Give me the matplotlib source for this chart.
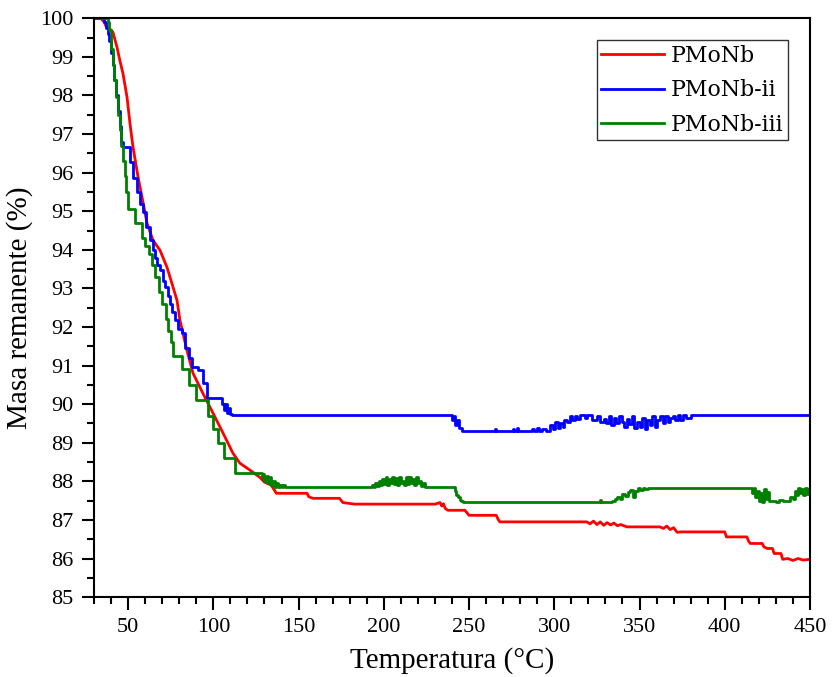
import numpy as np
import matplotlib
matplotlib.use("Agg")
import matplotlib.pyplot as plt
from matplotlib.ticker import MultipleLocator

# ---- Data ----
# each entry: (temperature in C, remaining mass in %)
red_pts = [(30, 100), (34, 100), (35, 99.95), (36, 99.9), (37, 99.8), (38, 99.75),
           (39, 99.7), (40, 99.7), (41.1, 99.64), (43.5, 99.25), (45.2, 98.9),
           (47, 98.57), (49.4, 97.95), (51.1, 97.28), (52.9, 96.66), (55.8, 95.9),
           (58.2, 95.36), (61.1, 94.69), (64.6, 94.25), (68.7, 93.99), (72.8, 93.55),
           (75.7, 93.13), (78.7, 92.69), (80.4, 92.18), (84.5, 91.4), (88.1, 90.8),
           (93.9, 90.28), (99.8, 89.77), (105.7, 89.25), (111.5, 88.73), (115.6, 88.47),
           (121.5, 88.29), (127.4, 88.1), (130, 87.98), (134, 87.9), (137, 87.69),
           (155, 87.69), (156, 87.6), (158.4, 87.56), (174, 87.56), (176, 87.45),
           (183, 87.41), (230, 87.41), (233, 87.45), (234, 87.36), (235, 87.42),
           (236, 87.3), (237.6, 87.25), (247.6, 87.25), (250, 87.12), (266, 87.12),
           (267, 87.02), (268, 86.95), (319, 86.95), (321, 86.9), (323, 86.97),
           (325, 86.88), (327, 86.95), (329, 86.86), (331, 86.93), (333, 86.87),
           (335, 86.92), (337, 86.85), (339, 86.88), (342.6, 86.82), (362, 86.82),
           (364, 86.78), (366, 86.84), (368, 86.75), (370, 86.8), (372, 86.68),
           (374, 86.69), (400, 86.69), (401, 86.56), (413, 86.56), (414, 86.45),
           (415, 86.39), (422, 86.39), (423, 86.3), (425, 86.26), (428, 86.26),
           (429, 86.13), (433, 86.13), (434, 85.98), (437, 86.0), (440, 85.95),
           (443, 86.0), (446, 85.96), (450, 85.98)]

blue_pts = [(30, 100), (35, 100), (36, 99.9), (37, 99.75), (38, 99.6), (39, 99.4),
            (40, 99.1), (41, 98.8), (42, 98.4), (43, 98.0), (44, 97.6), (45, 97.2),
            (46, 96.8), (47, 96.67), (51.1, 96.28), (52.9, 95.85), (55.2, 95.5),
            (57, 95.2), (58.7, 94.97), (60.5, 94.6), (62.8, 94.25), (64.5, 94.0),
            (65.8, 93.8), (67.2, 93.6), (68.7, 93.47), (70.2, 93.2), (71.6, 93.03),
            (73.2, 92.8), (74.6, 92.6), (76, 92.4), (77.5, 92.18), (79.5, 91.95),
            (81.6, 91.84), (83.4, 91.45), (85.5, 91.2), (87.5, 90.96), (91, 90.88),
            (93.9, 90.54), (96.3, 90.15), (105, 90.0), (106, 89.85), (107, 90.0),
            (108, 89.78), (109, 89.9), (110, 89.75), (111, 89.71), (239.8, 89.6),
            (241, 89.7), (242, 89.45), (243, 89.6), (244, 89.38), (245.6, 89.31),
            (265, 89.36), (266, 89.31), (275.7, 89.36), (276.5, 89.31), (278, 89.37),
            (279, 89.31), (287, 89.36), (288, 89.31), (290, 89.38), (291, 89.31),
            (293, 89.35), (295, 89.31), (297.5, 89.45), (299, 89.35), (300.5, 89.55),
            (302, 89.38), (303.5, 89.5), (305, 89.42), (306, 89.6), (307.5, 89.55),
            (309, 89.7), (310.5, 89.58), (312, 89.7), (313.5, 89.62), (315, 89.71),
            (318, 89.65), (319, 89.71), (322, 89.6), (325, 89.7), (327, 89.55),
            (329, 89.62), (330.5, 89.5), (332, 89.7), (333.5, 89.45), (335, 89.65),
            (336.5, 89.5), (338, 89.7), (339.5, 89.55), (341, 89.4), (342.5, 89.62),
            (344, 89.48), (345.5, 89.7), (347, 89.38), (348.5, 89.55), (350, 89.42),
            (351.5, 89.65), (353, 89.36), (354.5, 89.6), (356, 89.45), (357.5, 89.7),
            (359, 89.4), (360.5, 89.6), (362, 89.7), (363.5, 89.5), (365, 89.7),
            (366.5, 89.55), (368, 89.65), (369.5, 89.7), (371, 89.6), (372.5, 89.71),
            (374, 89.6), (375.5, 89.71), (377, 89.65), (380, 89.71), (450, 89.71)]

green_pts = [(30, 100), (38, 99.9), (39, 99.7), (40, 99.2), (41, 98.8), (42, 98.4),
             (43, 97.95), (44, 97.5), (45, 97.1), (46, 96.7), (47, 96.3), (48, 95.9),
             (49, 95.5), (50, 95.05), (54, 94.7), (58, 94.3), (60, 94.1), (62, 93.9),
             (64, 93.6), (66, 93.3), (68, 92.9), (70, 92.6), (72, 92.2), (73.5, 91.9),
             (75, 91.6), (76.5, 91.25), (81.5, 90.9), (86, 90.5), (90, 90.1),
             (97, 89.7), (100, 89.35), (103, 89.0), (106.5, 88.6), (113, 88.21),
             (128.5, 88.1), (129, 88.2), (130, 88.0), (131, 88.15), (132, 87.95),
             (133, 88.1), (134, 87.9), (135, 88.0), (136, 87.85), (137, 87.95),
             (138, 87.85), (139, 87.9), (140, 87.85), (141, 87.9), (142, 87.85),
             (193, 87.9), (194, 87.85), (195, 87.95), (196, 87.88), (197, 88.0),
             (198, 87.9), (199, 88.05), (200, 87.92), (201, 88.1), (202, 87.9),
             (203, 88.05), (204, 87.95), (205, 88.1), (206, 87.92), (207, 88.08),
             (208, 87.9), (209, 88.12), (210, 87.95), (211, 88.0), (212, 87.9),
             (213, 88.1), (214, 87.92), (215, 88.12), (216, 87.95), (217, 88.05),
             (218, 87.9), (219, 88.1), (220, 87.95), (221, 88.0), (222, 87.88),
             (223, 87.95), (224, 87.85), (241.5, 87.75), (242.5, 87.65), (243.5, 87.6),
             (244.5, 87.52), (245.5, 87.48), (246.5, 87.46), (326.8, 87.52),
             (327.5, 87.46), (334, 87.5), (335.6, 87.55), (337, 87.6), (338.5, 87.55),
             (340, 87.68), (341.5, 87.62), (343, 87.72), (344.5, 87.78), (346, 87.6),
             (347.5, 87.75), (349, 87.84), (350.5, 87.78), (352, 87.84), (353.5, 87.8),
             (355, 87.84), (416, 87.7), (417, 87.82), (418, 87.6), (419, 87.75),
             (420, 87.5), (421, 87.7), (422, 87.46), (423, 87.8), (424, 87.55),
             (425, 87.72), (426, 87.48), (428, 87.5), (430, 87.46), (432, 87.52),
             (434, 87.5), (436, 87.5), (438, 87.6), (440, 87.55), (441, 87.75),
             (442, 87.65), (443, 87.84), (444, 87.7), (445, 87.8), (446, 87.65),
             (447, 87.84), (448, 87.68), (449, 87.8), (450, 87.75)]

labels = ['PMoNb', 'PMoNb-ii', 'PMoNb-iii']

red_t, red_m = zip(*red_pts)
blue_t, blue_m = zip(*blue_pts)
green_t, green_m = zip(*green_pts)

# ---- Plotting ----
fig = plt.figure(figsize=(8.34, 6.77), dpi=100)
ax = fig.add_axes([0.1127, 0.118, 0.8585, 0.855])

ax.plot(red_t, red_m, color='#ff0000', lw=2.0, label=labels[0])
ax.plot(blue_t, blue_m, color='#0000ff', lw=2.0, drawstyle='steps-post', label=labels[1])
ax.plot(green_t, green_m, color='#008000', lw=2.0, drawstyle='steps-post', label=labels[2])

ax.set_xlim(30, 450)
ax.set_ylim(85, 100)
ax.xaxis.set_major_locator(MultipleLocator(50))
ax.xaxis.set_minor_locator(MultipleLocator(10))
ax.yaxis.set_major_locator(MultipleLocator(1))
ax.yaxis.set_minor_locator(MultipleLocator(0.5))

ax.tick_params(which='both', direction='out', top=False, right=False, width=1.5)
ax.tick_params(which='major', length=9, labelsize=16)
ax.tick_params(axis='y', which='major', pad=6)
ax.tick_params(axis='x', which='major', pad=6)
ax.tick_params(which='minor', length=5)
for lab in ax.get_xticklabels() + ax.get_yticklabels():
    lab.set_fontfamily('Liberation Serif')
for s in ax.spines.values():
    s.set_linewidth(1.5)

ax.set_xlabel('Temperatura (°C)', fontsize=21, fontfamily='Liberation Serif', labelpad=7)
ax.set_ylabel('Masa remanente (%)', fontsize=21, fontfamily='Liberation Serif', labelpad=5)

leg = ax.legend(loc='upper right', prop={'family': 'DejaVu Serif', 'size': 15.8},
                frameon=True, fancybox=False, edgecolor='#333333', framealpha=1,
                borderpad=0.2, handlelength=2.85, handletextpad=0.32,
                labelspacing=0.58, borderaxespad=1.0)
leg.get_frame().set_linewidth(1.0)

plt.savefig('out.png', dpi=100)
